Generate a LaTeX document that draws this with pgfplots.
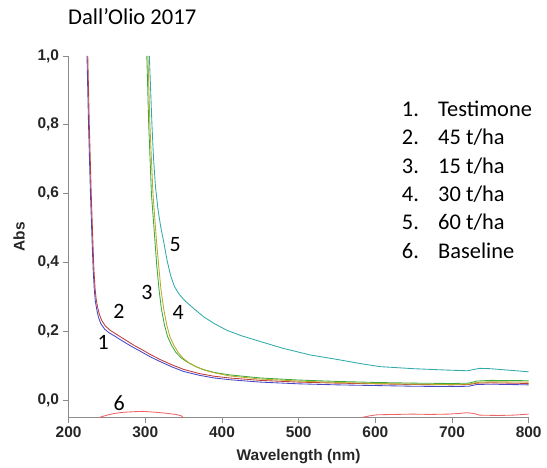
\documentclass[border=0pt]{standalone}
\usepackage{pgfplots}
\pgfplotsset{compat=1.18}
\usepackage{fontspec}
\setmainfont{Carlito}
\newfontfamily\arialfont{Liberation Sans}

\definecolor{cBlue}{RGB}{70,70,200}
\definecolor{cRed}{RGB}{190,60,60}
\definecolor{cGreen}{RGB}{60,170,60}
\definecolor{cOlive}{RGB}{185,170,40}
\definecolor{cCyan}{RGB}{50,170,170}
\definecolor{cBase}{RGB}{240,100,100}
\definecolor{axisgray}{RGB}{140,140,140}

\begin{document}
\begin{tikzpicture}[x=1bp,y=1bp]
\useasboundingbox (0,0) rectangle (547,468);
\begin{axis}[
  at={(68.6bp,50.8bp)}, anchor=south west,
  scale only axis, width=460.1bp, height=361.2bp,
  xmin=200, xmax=800, ymin=-0.05, ymax=1.0,
  axis x line*=bottom, axis y line*=left,
  axis line style={draw=axisgray, line width=0.8bp},
  tick style={draw=axisgray, line width=0.8bp},
  tick align=outside, major tick length=6bp,
  xtick={200,300,400,500,600,700,800},
  ytick={0,0.2,0.4,0.6,0.8,1.0},
  /pgf/number format/assume math mode=true,
  tick label style={font=\arialfont\bfseries\fontsize{15.5}{18}\selectfont, text=black!85},
  yticklabel style={/pgf/number format/.cd, fixed, fixed zerofill, precision=1, use comma},
  xticklabel style={/pgf/number format/.cd, 1000 sep={}},
  every axis plot/.append style={line width=0.85bp, no markers},
  clip=true,
]
% 1. Testimone
\addplot[cBlue] coordinates {
(224,1.000) (226,0.800) (228.5,0.600) (230.5,0.470) (232,0.380) (233.5,0.320)
(235,0.285) (237,0.260) (239,0.240) (242,0.222) (247,0.206) (253,0.195)
(260,0.186) (267,0.176) (275,0.165) (285,0.152) (295,0.140) (306,0.126)
(320,0.111) (335,0.096) (350,0.083) (370,0.072) (390,0.064) (410,0.059)
(450,0.052) (500,0.047) (550,0.044) (600,0.042) (650,0.040) (700,0.039)
(722,0.040) (732,0.045) (750,0.046) (800,0.044)};
% 2. 45 t/ha
\addplot[cRed] coordinates {
(225,1.000) (227,0.800) (229.5,0.600) (231.5,0.470) (233,0.380) (234.5,0.325)
(236,0.292) (238,0.268) (240,0.250) (243,0.232) (248,0.215) (254,0.203)
(261,0.193) (268,0.183) (276,0.172) (286,0.158) (296,0.146) (306,0.133)
(320,0.117) (335,0.102) (350,0.089) (370,0.077) (390,0.069) (410,0.064)
(450,0.057) (500,0.052) (550,0.049) (600,0.047) (650,0.045) (700,0.044)
(722,0.045) (732,0.049) (750,0.050) (800,0.048)};
% 3. 15 t/ha
\addplot[cGreen] coordinates {
(302,1.000) (304.5,0.800) (308,0.600) (312.5,0.465) (315,0.390) (318,0.320)
(321,0.265) (325,0.218) (329,0.185) (334,0.160) (340,0.138) (347,0.122)
(355,0.110) (365,0.098) (375,0.089) (390,0.080) (410,0.073) (450,0.064)
(500,0.058) (550,0.054) (600,0.051) (650,0.049) (700,0.048) (722,0.049)
(732,0.055) (750,0.057) (800,0.056)};
% 4. 30 t/ha
\addplot[cOlive] coordinates {
(303.5,1.000) (306,0.800) (310,0.600) (314.5,0.465) (317.5,0.390) (320.5,0.320)
(324,0.265) (328,0.218) (332,0.185) (337,0.160) (343,0.138) (349,0.122)
(357,0.108) (367,0.096) (377,0.087) (392,0.078) (410,0.070) (450,0.061)
(500,0.055) (550,0.051) (600,0.048) (650,0.046) (700,0.045) (722,0.046)
(732,0.051) (750,0.053) (800,0.052)};
% 5. 60 t/ha
\addplot[cCyan] coordinates {
(305.3,1.000) (307,0.900) (308.7,0.800) (310.8,0.700) (313.3,0.620)
(316.5,0.555) (320,0.505) (324,0.460) (328.5,0.405) (333,0.362) (338,0.330)
(344,0.308) (351,0.290) (360,0.272) (376,0.242)
(390,0.222) (406,0.203) (425,0.187) (450,0.170) (480,0.150) (515,0.131)
(550,0.118) (580,0.106) (606,0.097) (650,0.091) (693,0.087) (720,0.085)
(736,0.092) (750,0.091) (800,0.082)};
% 6. Baseline
\addplot[cBase] coordinates {
(236,-0.056) (241,-0.050) (250,-0.044) (260,-0.039) (270,-0.036) (285,-0.034)
(297,-0.033) (310,-0.035) (325,-0.038) (340,-0.042) (347,-0.046) (350,-0.052)
(360,-0.070) (575,-0.070) (584,-0.050) (593,-0.046) (602,-0.043) (625,-0.042)
(649,-0.041) (672,-0.042) (695,-0.041) (710,-0.039) (719,-0.037) (728,-0.039)
(736,-0.044) (760,-0.045) (780,-0.044) (800,-0.041)};

% curve numbers
\begin{scope}[every node/.style={font=\fontsize{22}{22}\selectfont, inner sep=0pt}]
\node at (axis cs:245,0.166) {1};
\node at (axis cs:265.5,0.259) {2};
\node at (axis cs:302,0.314) {3};
\node at (axis cs:343,0.253) {4};
\node at (axis cs:339,0.452) {5};
\node at (axis cs:266,-0.009) {6};
\end{scope}
\end{axis}

% title
\node[anchor=base west, inner sep=0pt, font=\fontsize{22.7}{24}\selectfont] at (68,443) {Dall’Olio 2017};

% axis titles
\node[rotate=90, inner sep=0pt, font=\arialfont\bfseries\fontsize{15.5}{18}\selectfont, text=black!85] at (19,231.4) {Abs};
\node[anchor=base, inner sep=0pt, font=\arialfont\bfseries\fontsize{15.5}{18}\selectfont, text=black!85] at (298.6,7.3) {Wavelength (nm)};

% numbered key
\begin{scope}[every node/.style={anchor=base west, inner sep=0pt, font=\fontsize{22.5}{24}\selectfont}]
\node at (401.7,351.3) {1.}; \node at (438,351.3) {Testimone};
\node at (401.7,323.0) {2.}; \node at (438,323.0) {45 t/ha};
\node at (401.7,294.7) {3.}; \node at (438,294.7) {15 t/ha};
\node at (401.7,266.3) {4.}; \node at (438,266.3) {30 t/ha};
\node at (401.7,238.0) {5.}; \node at (438,238.0) {60 t/ha};
\node at (401.7,209.7) {6.}; \node at (438,209.7) {Baseline};
\end{scope}
\end{tikzpicture}
\end{document}
